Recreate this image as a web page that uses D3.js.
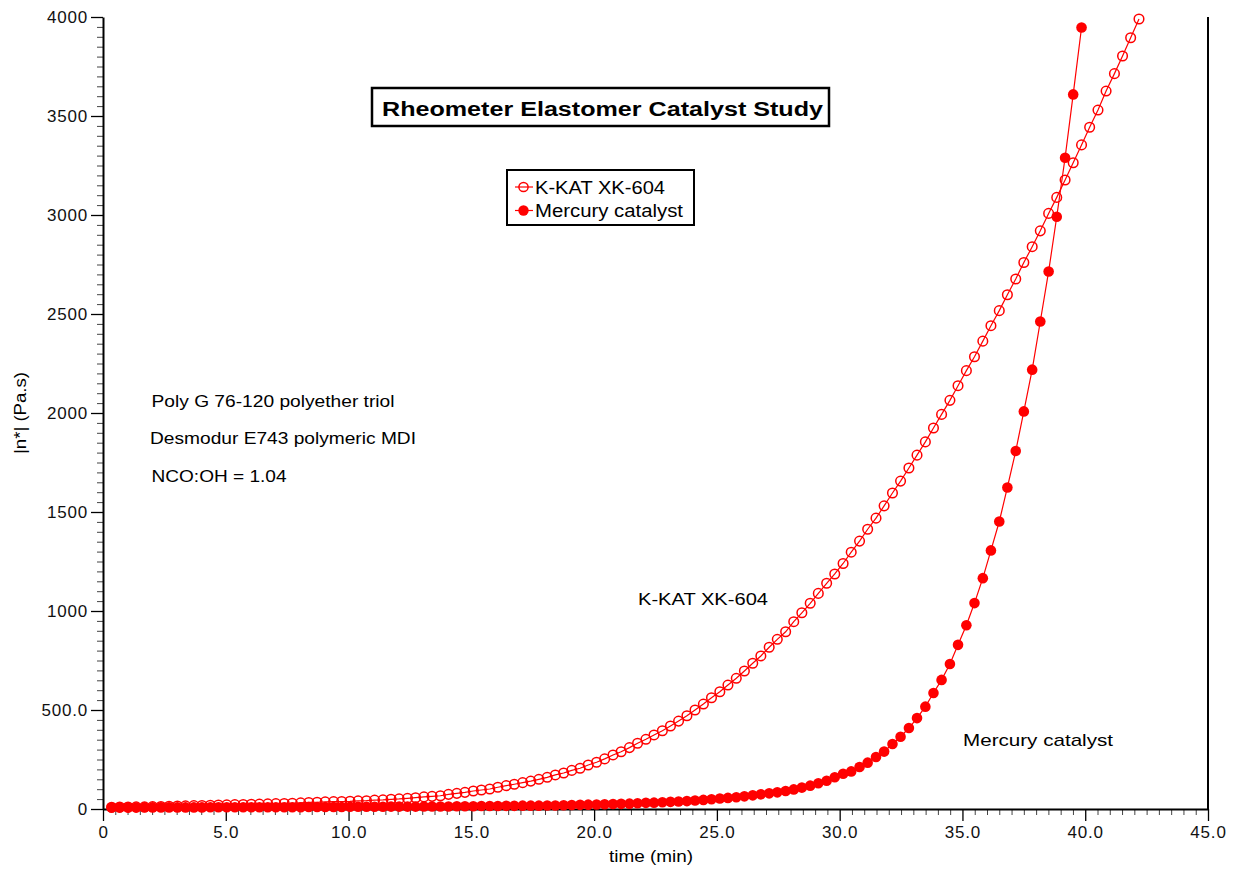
<!DOCTYPE html>
<html>
<head>
<meta charset="utf-8">
<script src="https://cdn.jsdelivr.net/npm/d3@7/dist/d3.min.js"></script>
<style>
  body { margin: 0; background: #fff; }
  svg { font-family: "Liberation Sans", Arial, sans-serif; }
</style>
</head>
<body>
<script>
"use strict";

// sample times (min), shared by both runs
const time = [
  0.35, 0.68, 1.02, 1.35, 1.69, 2.02, 2.36, 2.69, 3.03, 3.36,
  3.70, 4.03, 4.37, 4.70, 5.04, 5.37, 5.71, 6.04, 6.37, 6.71,
  7.04, 7.38, 7.71, 8.05, 8.38, 8.72, 9.05, 9.39, 9.72, 10.06,
  10.39, 10.73, 11.06, 11.40, 11.73, 12.06, 12.40, 12.73, 13.07, 13.40,
  13.74, 14.07, 14.41, 14.74, 15.08, 15.41, 15.75, 16.08, 16.42, 16.75,
  17.09, 17.42, 17.75, 18.09, 18.42, 18.76, 19.09, 19.43, 19.76, 20.10,
  20.43, 20.77, 21.10, 21.44, 21.77, 22.11, 22.44, 22.78, 23.11, 23.44,
  23.78, 24.11, 24.45, 24.78, 25.12, 25.45, 25.79, 26.12, 26.46, 26.79,
  27.13, 27.46, 27.80, 28.13, 28.46, 28.80, 29.13, 29.47, 29.80, 30.14,
  30.47, 30.81, 31.14, 31.48, 31.81, 32.15, 32.48, 32.82, 33.15, 33.49,
  33.82, 34.15, 34.49, 34.82, 35.16, 35.49, 35.83, 36.16, 36.50, 36.83,
  37.17, 37.50, 37.84, 38.17, 38.51, 38.84, 39.18, 39.51, 39.85, 40.18,
  40.52, 40.85, 41.19, 41.52, 41.85, 42.19
];

// |n*| (Pa.s), K-KAT XK-604
const kkat = [
  9, 10, 10, 11, 11, 12, 13, 14, 15, 16,
  17, 18, 19, 20, 21, 22, 23, 24, 25, 26,
  27, 28, 29, 31, 33, 34, 36, 37, 38, 39,
  41, 42, 45, 46, 49, 51, 54, 57, 61, 64,
  67, 74, 79, 84, 91, 96, 101, 110, 118, 125,
  133, 141, 150, 160, 172, 182, 195, 206, 222, 236,
  253, 273, 289, 310, 332, 352, 374, 395, 419, 444,
  471, 500, 530, 562, 592, 626, 660, 697, 736, 773,
  817, 857, 895, 946, 991, 1039, 1089, 1140, 1187, 1240,
  1297, 1353, 1413, 1469, 1531, 1596, 1656, 1722, 1787, 1854,
  1924, 1993, 2064, 2138, 2214, 2284, 2363, 2441, 2517, 2597,
  2677, 2760, 2840, 2920, 3008, 3089, 3177, 3264, 3354, 3443,
  3530, 3626, 3714, 3803, 3895, 3990
];

// |n*| (Pa.s), Mercury catalyst
const mercury = [
  7, 7, 7, 7, 8, 8, 8, 8, 8, 8,
  8, 8, 9, 9, 9, 9, 9, 9, 9, 9,
  9, 9, 9, 9, 10, 10, 10, 10, 10, 11,
  11, 11, 11, 11, 12, 12, 12, 12, 13, 13,
  13, 13, 14, 14, 14, 15, 15, 15, 16, 16,
  17, 17, 17, 18, 18, 19, 20, 21, 22, 23,
  24, 25, 26, 27, 29, 31, 32, 34, 36, 38,
  40, 43, 46, 49, 53, 56, 59, 64, 69, 74,
  79, 84, 91, 99, 108, 118, 130, 143, 160, 178,
  190, 212, 234, 263, 290, 328, 365, 409, 459, 517,
  586, 652, 732, 829, 928, 1040, 1166, 1306, 1452, 1624,
  1808, 2008, 2219, 2462, 2715, 2991, 3289, 3609, 3947
];

const xMajor = [0, 5, 10, 15, 20, 25, 30, 35, 40, 45];
const yMajor = [0, 500, 1000, 1500, 2000, 2500, 3000, 3500, 4000];
const seriesNames = ["K-KAT XK-604", "Mercury catalyst"];
const notes = ["Poly G 76-120 polyether triol", "Desmodur E743 polymeric MDI", "NCO:OH = 1.04"];

(function() {

const width = 1236;
const height = 871;
const margin = { left: 103, top: 17, right: 28, bottom: 62 };
const w = width - margin.left - margin.right;
const h = height - margin.top - margin.bottom;
const red = "#ff0000";

let svg = d3.select("body").append("svg")
    .attr("width", width)
    .attr("height", height);

let g = svg.append("g")
    .attr("transform", `translate(${margin.left},${margin.top})`);

let x = d3.scaleLinear().domain([0, 45]).range([0, w]);
let y = d3.scaleLinear().domain([0, 4000]).range([h, 0]);

// stretched text, the original was drawn a bit wide
function label(sel, str, len, size, bold) {
    return sel.append("text")
        .attr("textLength", len)
        .attr("lengthAdjust", "spacingAndGlyphs")
        .style("font-size", size + "px")
        .style("font-weight", bold ? "bold" : "normal")
        .text(str);
}

// minor ticks first
let xMinor = d3.range(0, 45.01, 0.5).filter(v => v % 5 !== 0);
let yMinor = d3.range(0, 4000.1, 50).filter(v => v % 500 !== 0);

g.append("g")
    .attr("transform", `translate(0,${h})`)
    .call(d3.axisBottom(x).tickValues(xMinor).tickSize(6).tickFormat(""))
    .call(a => a.select(".domain").remove())
    .selectAll("line").attr("stroke", "#444");

g.append("g")
    .call(d3.axisLeft(y).tickValues(yMinor).tickSize(6).tickFormat(""))
    .call(a => a.select(".domain").remove())
    .selectAll("line").attr("stroke", "#444");

let xAxis = g.append("g")
    .attr("transform", `translate(0,${h})`)
    .call(d3.axisBottom(x)
        .tickValues(xMajor)
        .tickSize(12)
        .tickSizeOuter(0)
        .tickPadding(5)
        .tickFormat(d => d === 0 ? "0" : d.toFixed(1)));

let yAxis = g.append("g")
    .call(d3.axisLeft(y)
        .tickValues(yMajor)
        .tickSize(12)
        .tickSizeOuter(0)
        .tickPadding(3)
        .tickFormat(d => d === 500 ? "500.0" : String(d)));

[xAxis, yAxis].forEach(a => {
    a.select(".domain").attr("stroke-width", 2);
    a.selectAll("line").attr("stroke-width", 1.3);
    a.selectAll("text")
        .style("font-size", "17px")
        .style("letter-spacing", "0.8px")
        .attr("fill", "#111");
});

// right frame line
g.append("line")
    .attr("x1", w).attr("x2", w)
    .attr("y1", 0).attr("y2", h)
    .attr("stroke", "#000")
    .attr("stroke-width", 2);

// axis titles
label(svg, "time (min)", 84, 16)
    .attr("x", 609)
    .attr("y", 862);

label(svg, "|n*| (Pa.s)", 82, 16)
    .attr("transform", "translate(26,454) rotate(-90)");

// series
let kData = kkat.map((v, i) => [time[i], v]);
let mData = mercury.map((v, i) => [time[i], v]);

let line = d3.line()
    .x(d => x(d[0]))
    .y(d => y(d[1]));

[kData, mData].forEach(data => {
    g.append("path")
        .datum(data)
        .attr("d", line)
        .attr("fill", "none")
        .attr("stroke", red)
        .attr("stroke-width", 1.2);
});

g.selectAll("circle.kkat")
    .data(kData)
    .enter()
    .append("circle")
    .attr("class", "kkat")
    .attr("cx", d => x(d[0]))
    .attr("cy", d => y(d[1]))
    .attr("r", 4.8)
    .attr("fill", "none")
    .attr("stroke", red)
    .attr("stroke-width", 1.5);

g.selectAll("circle.merc")
    .data(mData)
    .enter()
    .append("circle")
    .attr("class", "merc")
    .attr("cx", d => x(d[0]))
    .attr("cy", d => y(d[1]))
    .attr("r", 5.3)
    .attr("fill", red);

// title box
svg.append("rect")
    .attr("x", 372).attr("y", 88)
    .attr("width", 457).attr("height", 38)
    .attr("fill", "#fff")
    .attr("stroke", "#000")
    .attr("stroke-width", 2.5);

label(svg, "Rheometer Elastomer Catalyst Study", 441, 19.5, true)
    .attr("x", 382)
    .attr("y", 116);

// legend
let legend = svg.append("g");
legend.append("rect")
    .attr("x", 507).attr("y", 170)
    .attr("width", 187).attr("height", 55)
    .attr("fill", "#fff")
    .attr("stroke", "#000")
    .attr("stroke-width", 2);

const legendLen = [130, 148];
seriesNames.forEach((name, i) => {
    let ly = 187 + i * 23.5;
    legend.append("line")
        .attr("x1", 515).attr("x2", 533)
        .attr("y1", ly).attr("y2", ly)
        .attr("stroke", red)
        .attr("stroke-width", 1.2);
    legend.append("circle")
        .attr("cx", 523.5).attr("cy", ly)
        .attr("r", i === 0 ? 4.6 : 5.2)
        .attr("fill", i === 0 ? "none" : red)
        .attr("stroke", i === 0 ? red : "none")
        .attr("stroke-width", 1.5);
    label(legend, name, legendLen[i], 17.5)
        .attr("x", 535)
        .attr("y", ly + 6.5);
});

// notes on the left
const noteY = [406.5, 443.5, 481.5];
const noteLen = [243, 266, 135];
notes.forEach((t, i) => {
    label(svg, t, noteLen[i], 17)
        .attr("x", i === 1 ? 150 : 151.5)
        .attr("y", noteY[i]);
});

// series labels in the plot
label(svg, seriesNames[0], 130, 17)
    .attr("x", 638).attr("y", 605);

label(svg, seriesNames[1], 150, 17)
    .attr("x", 963).attr("y", 746);

})();
</script>
</body>
</html>
